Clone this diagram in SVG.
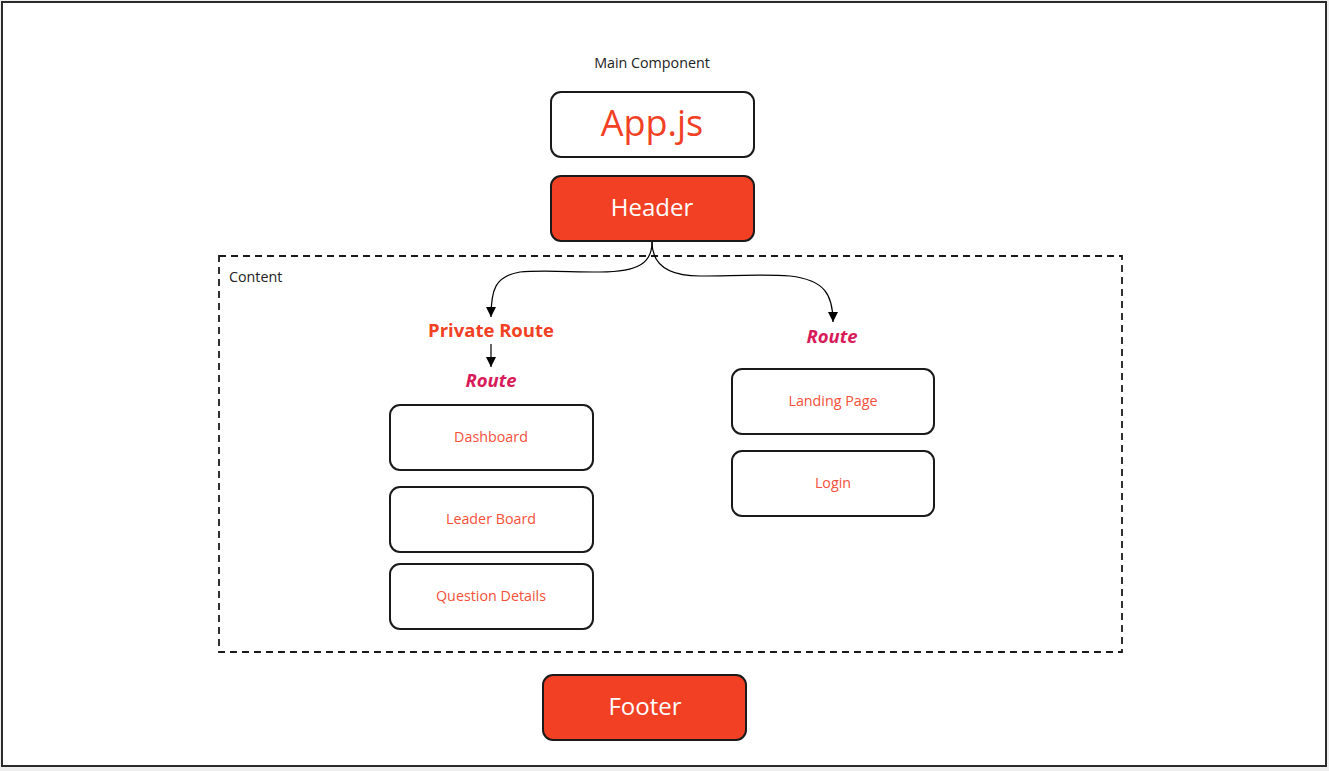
<svg xmlns="http://www.w3.org/2000/svg" width="1329" height="771" viewBox="0 0 1329 771">
<defs>
<style>
.box{fill:#fff;stroke:#1a1a1a;stroke-width:2}
.fill{fill:#f24024;stroke:#1a1a1a;stroke-width:2}
.t{font-family:"Open Sans","Liberation Sans",sans-serif;text-anchor:middle}
.small{font-size:14.3px;fill:#f4503a}
.big{font-size:24px;fill:#fff}
.route{font-size:18.5px;font-weight:bold;font-style:italic;fill:#d81b5a}
.con{fill:none;stroke:#000;stroke-width:1.2}
</style>
<marker id="ah" viewBox="0 0 10 10" refX="10" refY="5" markerWidth="15" markerHeight="10" markerUnits="userSpaceOnUse" orient="auto">
<path d="M0,0 L10,5 L0,10 Z" fill="#000"/>
</marker>
</defs>
<rect x="0" y="0" width="1329" height="771" fill="#eeeeee"/>
<rect x="2" y="2" width="1324" height="764" fill="#fff" stroke="#2a2a2a" stroke-width="2"/>
<g id="content">
<rect x="219" y="256" width="903" height="396" fill="none" stroke="#1a1a1a" stroke-width="1.8" stroke-dasharray="7,5"/>
<text x="229" y="282" font-family="Open Sans, Liberation Sans, sans-serif" font-size="14.3" fill="#222">Content</text>
</g>
<g id="main-label"><text class="t" x="652" y="68" font-size="14.3" fill="#222">Main Component</text></g>
<g id="appjs">
<rect class="box" x="551" y="92" width="203" height="65" rx="10"/>
<text class="t" x="652" y="136" font-size="36" fill="#f24024">App.js</text>
</g>
<g id="header">
<rect class="fill" x="551" y="176" width="203" height="65" rx="10"/>
<text class="t big" x="652" y="216">Header</text>
</g>
<g id="private-route"><text class="t" x="491" y="337" font-size="18.5" font-weight="bold" fill="#f24024">Private Route</text></g>
<g id="route-left"><text class="t route" x="491" y="387">Route</text></g>
<g id="route-right"><text class="t route" x="832" y="343">Route</text></g>
<g id="dashboard">
<rect class="box" x="390" y="405" width="203" height="65" rx="10"/>
<text class="t small" x="491" y="442">Dashboard</text>
</g>
<g id="leaderboard">
<rect class="box" x="390" y="487" width="203" height="65" rx="10"/>
<text class="t small" x="491" y="524">Leader Board</text>
</g>
<g id="questiondetails">
<rect class="box" x="390" y="564" width="203" height="65" rx="10"/>
<text class="t small" x="491" y="601">Question Details</text>
</g>
<g id="landingpage">
<rect class="box" x="732" y="369" width="202" height="65" rx="10"/>
<text class="t small" x="833" y="406">Landing Page</text>
</g>
<g id="login">
<rect class="box" x="732" y="451" width="202" height="65" rx="10"/>
<text class="t small" x="833" y="488">Login</text>
</g>
<g id="footer">
<rect class="fill" x="543" y="675" width="203" height="65" rx="10"/>
<text class="t big" x="645" y="715">Footer</text>
</g>
<g id="connectors">
<path class="con" d="M652,242 C652,262 640,272 600,272 C570,272 540,270 520,272 C495,276 491,290 491,317" marker-end="url(#ah)"/>
<path class="con" d="M652,242 C652,262 665,276 700,276 C730,276 760,274 790,276 C825,280 833,295 833,322" marker-end="url(#ah)"/>
<path class="con" d="M491,344 L491,367" marker-end="url(#ah)"/>
</g>
</svg>
